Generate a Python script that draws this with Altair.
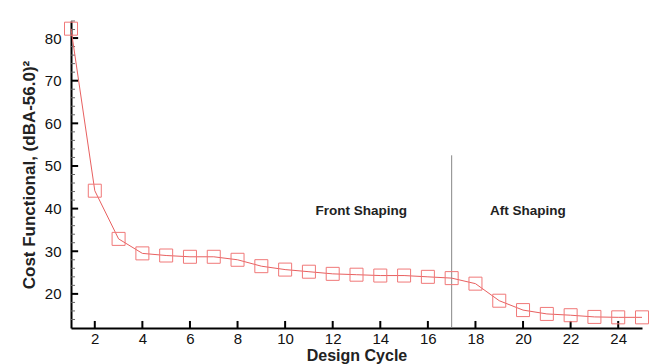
import altair as alt
import pandas as pd

# ---- data ----
cycles = list(range(1, 26))
cost = [82.2, 44.2, 32.9, 29.5, 29.0, 28.7, 28.7, 28.0, 26.5, 25.7, 25.2, 24.7,
        24.5, 24.3, 24.3, 24.0, 23.7, 22.4, 18.4, 16.2, 15.3, 15.0, 14.6, 14.5, 14.5]

x_tick_values = [2, 4, 6, 8, 10, 12, 14, 16, 18, 20, 22, 24]
y_tick_values = [20, 30, 40, 50, 60, 70, 80]
y_minor_values = [v for v in range(14, 85, 2) if v % 10 != 0]

divider_x = [17]
divider_y0 = [12]
divider_y1 = [52.5]

label_text = ["Front Shaping", "Aft Shaping"]
label_x = [13.2, 20.2]
label_y = [39.4, 39.4]

X_DOMAIN = [1, 25]
Y_DOMAIN = [12, 84]
FONT = "Liberation Sans"

df = pd.DataFrame({"cycle": cycles, "cost": cost})
df_div = pd.DataFrame({"x": divider_x, "y0": divider_y0, "y1": divider_y1})
df_lab = pd.DataFrame({"t": label_text, "x": label_x, "y": label_y})
df_xt = pd.DataFrame({"v": x_tick_values})
df_yt = pd.DataFrame({"v": y_tick_values})
df_ym = pd.DataFrame({"v": y_minor_values})

xscale = alt.Scale(domain=X_DOMAIN, nice=False, zero=False)
yscale = alt.Scale(domain=Y_DOMAIN, nice=False, zero=False)

xaxis = alt.Axis(values=x_tick_values, title="Design Cycle", grid=False, ticks=False,
                 domainColor="black", domainWidth=2, labelFontSize=15, labelColor="#111",
                 labelPadding=3, labelFont=FONT, titleFont=FONT, titleFontSize=16,
                 titleFontWeight="bold", titleColor="#222", titlePadding=1)
yaxis = alt.Axis(values=y_tick_values, title="Cost Functional, (dBA-56.0)²", grid=False,
                 ticks=False, domainColor="black", domainWidth=2, labelFontSize=15,
                 labelColor="#111", labelPadding=10, labelFont=FONT, titleFont=FONT,
                 titleFontSize=17, titleFontWeight="bold", titleColor="#222",
                 titlePadding=6)

base = alt.Chart(df)
line = base.mark_line(interpolate="linear", color="#e86060", strokeWidth=1).encode(
    x=alt.X("cycle:Q", scale=xscale, axis=xaxis),
    y=alt.Y("cost:Q", scale=yscale, axis=yaxis),
)
pts = base.mark_point(shape="square", filled=False, size=169, strokeWidth=1,
                      color="#f07878", opacity=1).encode(
    x=alt.X("cycle:Q", scale=xscale),
    y=alt.Y("cost:Q", scale=yscale),
)

divider = alt.Chart(df_div).mark_rule(color="#888", strokeWidth=1).encode(
    x=alt.X("x:Q", scale=xscale), y=alt.Y("y0:Q", scale=yscale), y2="y1:Q")

labels = alt.Chart(df_lab).mark_text(font=FONT, fontSize=13.5, fontWeight="bold",
                                      color="#222").encode(
    x=alt.X("x:Q", scale=xscale), y=alt.Y("y:Q", scale=yscale), text="t:N")

xt = alt.Chart(df_xt).mark_rule(color="black", strokeWidth=2).encode(
    x=alt.X("v:Q", scale=xscale), y=alt.datum(12), y2=alt.datum(13.65))
yt = alt.Chart(df_yt).mark_rule(color="black", strokeWidth=2).encode(
    y=alt.Y("v:Q", scale=yscale), x=alt.datum(1), x2=alt.datum(1.3))
ym = alt.Chart(df_ym).mark_rule(color="#666", strokeWidth=1).encode(
    y=alt.Y("v:Q", scale=yscale), x=alt.datum(1), x2=alt.datum(1.17))

chart = alt.layer(divider, xt, yt, ym, line, pts, labels).properties(
    width=571, height=307,
    autosize=alt.AutoSizeParams(type="none"),
    padding={"left": 71, "top": 21, "right": 21, "bottom": 36},
).configure(background="white", view=alt.ViewConfig(stroke=None))

chart.save("out.html", embed_options={"renderer": "svg", "actions": False})
